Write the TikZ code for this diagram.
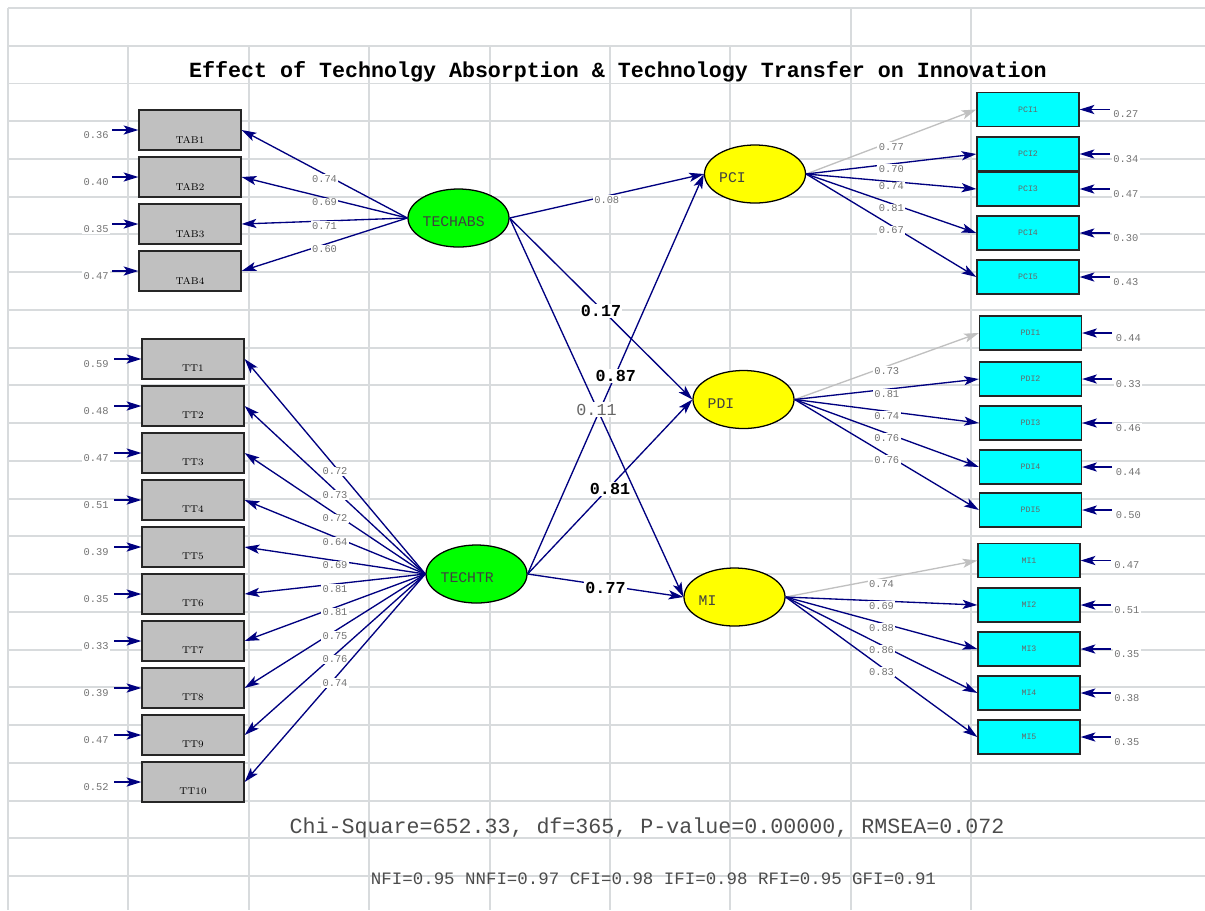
\documentclass[tikz,border=0pt]{standalone}
\usepackage{fontspec}
\setmonofont{Liberation Mono}
\usetikzlibrary{arrows.meta, positioning, shapes.geometric}

\definecolor{gridgray}{RGB}{216,219,221}
\definecolor{pathblue}{RGB}{0,0,128}
\definecolor{fixgray}{RGB}{192,192,192}
\definecolor{obsgray}{RGB}{192,192,192}
\definecolor{obscyan}{RGB}{0,255,255}
\definecolor{latgreen}{RGB}{0,255,0}
\definecolor{latyellow}{RGB}{255,255,0}

\begin{document}
\begin{tikzpicture}[x=0.025cm, y=-0.025cm, >={Stealth[length=10.5pt, width=6.5pt, inset=2.5pt]},
    gridline/.style={gridgray, line width=1.4pt},
    latent/.style={ellipse, draw, line width=0.9pt, minimum width=2.525cm, minimum height=1.45cm, inner sep=0pt},
    latname/.style={font=\ttfamily\fontsize{10.5}{12}\selectfont, text=black!75, inner sep=0pt, yshift=-0.1cm},
    exobox/.style={rectangle, draw=black!85, line width=0.9pt, fill=obsgray, minimum width=2.55cm, minimum height=1cm, inner sep=0pt},
    exoname/.style={font=\fontsize{7}{8}\selectfont, inner sep=0pt, yshift=-0.24cm},
    endobox/.style={rectangle, draw=black!85, line width=0.9pt, fill=obscyan, minimum width=2.55cm, minimum height=0.85cm, inner sep=0pt, font=\ttfamily\fontsize{5.9}{7}\selectfont, text=black!60},
    load/.style={->, pathblue, line width=0.95pt},
    fixload/.style={->, fixgray, line width=0.95pt},
    val/.style={fill=white, inner sep=1pt, text=black!55, font=\ttfamily\fontsize{7.4}{8}\selectfont, yshift=-0.125cm},
    errval/.style={fill=white, inner sep=1pt, text=black!55, font=\ttfamily\fontsize{7.4}{8}\selectfont},
    coef/.style={fill=white, inner sep=1pt, text=black, font=\ttfamily\bfseries\fontsize{11.9}{13}\selectfont, yshift=-0.05cm}]
    \useasboundingbox (0,0) rectangle (1205,910);

    % background grid
    \foreach \k in {0,...,23}
        \draw[gridline] (8,{8+37.74*\k}) -- (1205,{8+37.74*\k});
    \foreach \k in {0,7,8}
        \draw[gridline] ({8+120.4*\k},8) -- ({8+120.4*\k},910);
    \foreach \k in {1,...,6}
        \draw[gridline] ({8+120.4*\k},45.7) -- ({8+120.4*\k},910);

    \node[font=\ttfamily\bfseries\fontsize{15.4}{18}\selectfont] (title) at (618,72) {Effect of Technolgy Absorption \& Technology Transfer on Innovation};

    % latent variables
    \node[latent, fill=latgreen] (techabs) at (458.5,218) {};
    \node[latent, fill=latgreen] (techtr) at (476.5,574) {};
    \node[latent, fill=latyellow] (pci) at (755,174) {};
    \node[latent, fill=latyellow] (pdi) at (743.5,399.5) {};
    \node[latent, fill=latyellow] (mi) at (734.5,597) {};
    \node[latname, right=0.375cm of techabs.west] (techabs-t) {TECHABS};
    \node[latname, right=0.375cm of techtr.west] (techtr-t) {TECHTR};
    \node[latname, right=0.375cm of pci.west] (pci-t) {PCI};
    \node[latname, right=0.375cm of pdi.west] (pdi-t) {PDI};
    \node[latname, right=0.375cm of mi.west] (mi-t) {MI};

    % structural paths
    \draw[load] (techabs.east) -- node[val, yshift=0.025cm] (c1) {0.08} (pci.west);
    \draw[load] (techabs.east) -- node[coef] (c2) {0.17} (pdi.west);
    \draw[load] (techtr.east) -- node[coef] (c4) {0.87} (pci.west);
    \draw[load] (techtr.east) -- node[coef] (c5) {0.81} (pdi.west);
    \draw[load] (techtr.east) -- node[coef] (c6) {0.77} (mi.west);
    \draw[load] (techabs.east) -- node[coef, font=\ttfamily\fontsize{11.9}{13}\selectfont, text=black!60] (c3) {0.11} (mi.west);

    % technology absorption items
    \foreach \y/\ld/\er [count=\i] in {130/0.74/0.36, 177/0.69/0.40, 224/0.71/0.35, 271/0.60/0.47} {
        \node[exobox, label={[exoname]center:TAB\i}] (tab\i) at (190,\y) {};
        \coordinate[left=0.65cm of tab\i] (etab\i);
        \draw[load] (etab\i) -- (tab\i.west);
        \node[errval, left=0.05cm of etab\i, yshift=-0.125cm] (vtab\i) {\er};
        \draw[load] (techabs.west) -- node[val] (ltab\i) {\ld} (tab\i.east);
    }

    % technology transfer items
    \foreach \y/\ld/\er [count=\i] in {359/0.72/0.59, 406/0.73/0.48, 453/0.72/0.47, 500/0.64/0.51, 547/0.69/0.39,
                                       594/0.81/0.35, 641/0.81/0.33, 688/0.75/0.39, 735/0.76/0.47, 782/0.74/0.52} {
        \node[exobox, label={[exoname]center:TT\i}] (tt\i) at (193,\y) {};
        \coordinate[left=0.675cm of tt\i] (ett\i);
        \draw[load] (ett\i) -- (tt\i.west);
        \node[errval, left=0.1cm of ett\i, yshift=-0.125cm] (vtt\i) {\er};
        \draw[load] (techtr.west) -- node[val] (ltt\i) {\ld} (tt\i.east);
    }

    % PCI items
    \foreach \y/\ld/\er/\ls [count=\i] in {109.5/0.77/0.27/fixload, 154/0.70/0.34/load, 189/0.74/0.47/load,
                                           233/0.81/0.30/load, 277/0.67/0.43/load} {
        \node[endobox] (pci\i) at (1028,\y) {PCI\i};
        \coordinate[right=0.75cm of pci\i] (epci\i);
        \draw[load] (epci\i) -- (pci\i.east);
        \node[errval, right=0.05cm of epci\i, yshift=-0.125cm] (vpci\i) {\er};
        \draw[\ls] (pci.east) -- node[val] (lpci\i) {\ld} (pci\i.west);
    }

    % PDI items
    \foreach \y/\ld/\er/\ls [count=\i] in {333/0.73/0.44/fixload, 379/0.81/0.33/load, 423/0.74/0.46/load,
                                           467/0.76/0.44/load, 510/0.76/0.50/load} {
        \node[endobox] (pdi\i) at (1030.5,\y) {PDI\i};
        \coordinate[right=0.75cm of pdi\i] (epdi\i);
        \draw[load] (epdi\i) -- (pdi\i.east);
        \node[errval, right=0.05cm of epdi\i, yshift=-0.125cm] (vpdi\i) {\er};
        \draw[\ls] (pdi.east) -- node[val] (lpdi\i) {\ld} (pdi\i.west);
    }

    % MI items
    \foreach \y/\ld/\er/\ls [count=\i] in {560.5/0.74/0.47/fixload, 605/0.69/0.51/load, 649/0.88/0.35/load,
                                           693/0.86/0.38/load, 737/0.83/0.35/load} {
        \node[endobox] (mi\i) at (1029,\y) {MI\i};
        \coordinate[right=0.75cm of mi\i] (emi\i);
        \draw[load] (emi\i) -- (mi\i.east);
        \node[errval, right=0.05cm of emi\i, yshift=-0.125cm] (vmi\i) {\er};
        \draw[\ls] (mi.east) -- node[val] (lmi\i) {\ld} (mi\i.west);
    }

    % fit statistics
    \node[font=\ttfamily\fontsize{15.4}{18}\selectfont, text=black!70] (chisq) at (647,828) {Chi-Square=652.33, df=365, P-value=0.00000, RMSEA=0.072};
    \node[font=\ttfamily\fontsize{12.4}{14}\selectfont, text=black!70] (indices) at (653.5,879) {NFI=0.95 NNFI=0.97 CFI=0.98 IFI=0.98 RFI=0.95 GFI=0.91};
\end{tikzpicture}
\end{document}
